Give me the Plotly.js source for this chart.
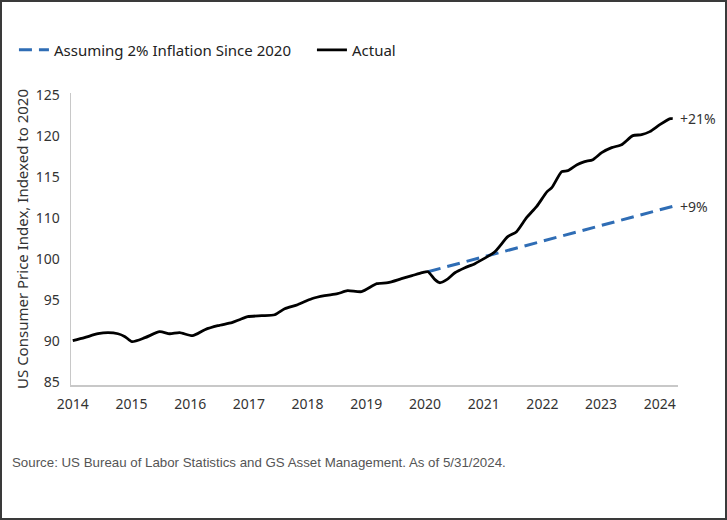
<!DOCTYPE html>
<html>
<head>
<meta charset="utf-8">
<script src="https://cdn.plot.ly/plotly-3.0.1.min.js"></script>
<style>
  html, body { margin: 0; padding: 0; background: #fff; }
  #wrap { width: 727px; height: 520px; box-sizing: border-box; border: 2px solid #3a3a3a; background:#fff; }
  #chart { width: 723px; height: 516px; }
</style>
</head>
<body>
<div id="wrap"><div id="chart"></div></div>
<script>
// ---- data (decimal years, index values in axis units) ----
const actualYears = [2014.00, 2014.20, 2014.43, 2014.60, 2014.77, 2014.89, 2015.01, 2015.23, 2015.48, 2015.65,
  2015.82, 2016.04, 2016.25, 2016.47, 2016.71, 2016.84, 2016.98, 2017.22, 2017.44, 2017.61,
  2017.83, 2018.07, 2018.29, 2018.51, 2018.68, 2018.92, 2019.18, 2019.37, 2019.60, 2019.78,
  2019.95, 2020.05, 2020.17, 2020.25, 2020.37, 2020.51, 2020.68, 2020.85, 2021.19, 2021.41,
  2021.56, 2021.73, 2021.90, 2022.08, 2022.16, 2022.33, 2022.43, 2022.59, 2022.72, 2022.86,
  2023.01, 2023.18, 2023.35, 2023.54, 2023.69, 2023.83, 2024.00, 2024.18, 2024.22];
const actualValues = [90.0, 90.37, 90.85, 90.98, 90.85, 90.49, 89.88, 90.37, 91.10, 90.85,
  90.98, 90.61, 91.34, 91.83, 92.20, 92.56, 92.93, 93.05, 93.17, 93.90,
  94.39, 95.12, 95.49, 95.73, 96.10, 95.98, 96.95, 97.07, 97.56, 97.93,
  98.29, 98.41, 97.44, 97.07, 97.44, 98.29, 98.90, 99.39, 100.85, 102.68,
  103.29, 105.0, 106.34, 108.17, 108.66, 110.61, 110.73, 111.46, 111.83, 112.07,
  112.93, 113.54, 113.90, 115.0, 115.12, 115.49, 116.34, 117.07, 117.07];
const trendYears = [2020.05, 2024.22];
const trendValues = [98.41, 106.38];

const seriesNames = ["Assuming 2% Inflation Since 2020", "Actual"];
const endLabels = ["+9%", "+21%"];

const xTickVals = [2014, 2015, 2016, 2017, 2018, 2019, 2020, 2021, 2022, 2023, 2024];
const xTickText = ["2014", "2015", "2016", "2017", "2018", "2019", "2020", "2021", "2022", "2023", "2024"];
// tick labels exactly as printed in the original chart (note: no "105")
const yTickVals = [85, 90, 95, 100, 105, 110, 115, 120];
const yTickText = ["85", "90", "95", "100", "110", "115", "120", "125"];

const yTitle = "US Consumer Price Index, Indexed to 2020";
const sourceText = "Source: US Bureau of Labor Statistics and GS Asset Management. As of 5/31/2024.";

const traces = [
  {
    x: trendYears, y: trendValues, name: seriesNames[0], mode: "lines",
    line: { color: "#2f6db5", width: 3, dash: "13px,7px" }, hoverinfo: "skip"
  },
  {
    x: actualYears, y: actualValues, name: seriesNames[1], mode: "lines",
    line: { color: "#000000", width: 2.8, shape: "spline", smoothing: 0.6 }, hoverinfo: "skip"
  }
];

const tickFont = { family: "Noto Sans, Open Sans, sans-serif", size: 14, color: "#333333" };

const layout = {
  width: 723, height: 516,
  margin: { l: 69, r: 47, t: 91, b: 133 },
  paper_bgcolor: "#ffffff", plot_bgcolor: "#ffffff",
  showlegend: true,
  legend: {
    orientation: "h", x: -0.094, xanchor: "left", y: 1.147, yanchor: "middle",
    font: { family: "Noto Sans, Open Sans, sans-serif", size: 15, color: "#222222" },
    itemwidth: 30, entrywidth: 253, entrywidthmode: "pixels",
    traceorder: "normal", bgcolor: "rgba(0,0,0,0)"
  },
  xaxis: {
    range: [2013.97, 2024.31], tickmode: "array", tickvals: xTickVals, ticktext: xTickText,
    showgrid: false, zeroline: false, showline: true, linecolor: "#c8c8c8", linewidth: 1.5,
    ticks: "", ticklabelstandoff: 6, tickfont: tickFont, fixedrange: true
  },
  yaxis: {
    range: [84.6, 120.2], tickmode: "array", tickvals: yTickVals, ticktext: yTickText,
    showgrid: false, zeroline: false, showline: true, linecolor: "#c8c8c8", linewidth: 1.5,
    ticks: "", ticklabelstandoff: 7, tickfont: tickFont, fixedrange: true,
    title: { text: yTitle, standoff: 3, font: { family: "Noto Sans, Open Sans, sans-serif", size: 15, color: "#333333" } }
  },
  annotations: [
    {
      x: actualYears[actualYears.length - 1], y: actualValues[actualValues.length - 1],
      xref: "x", yref: "y", text: endLabels[1], showarrow: false, xanchor: "left", yanchor: "middle",
      xshift: 5, font: { family: "Noto Sans, Open Sans, sans-serif", size: 14, color: "#333333" }
    },
    {
      x: trendYears[trendYears.length - 1], y: trendValues[trendValues.length - 1],
      xref: "x", yref: "y", text: endLabels[0], showarrow: false, xanchor: "left", yanchor: "middle",
      xshift: 5, font: { family: "Noto Sans, Open Sans, sans-serif", size: 14, color: "#333333" }
    },
    {
      x: -0.1, xref: "paper", xanchor: "left", y: -0.265, yref: "paper", yanchor: "middle",
      text: sourceText, showarrow: false,
      font: { family: "Liberation Sans, Arial, sans-serif", size: 13.3, color: "#555555" }
    }
  ]
};

Plotly.newPlot("chart", traces, layout, { staticPlot: true, displayModeBar: false });
</script>
</body>
</html>
